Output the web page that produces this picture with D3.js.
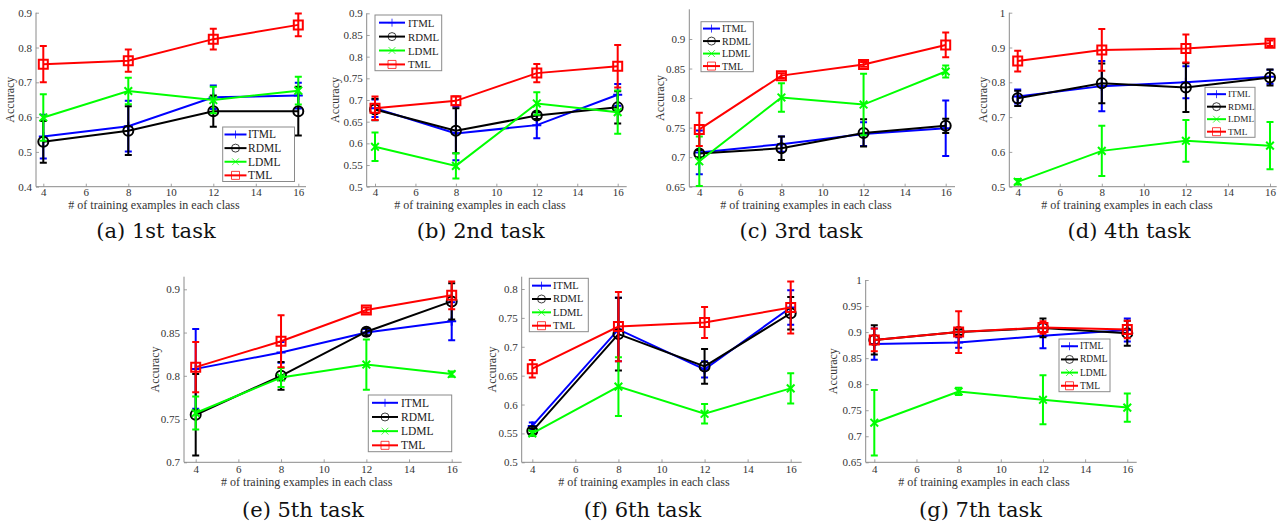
<!DOCTYPE html>
<html>
<head>
<meta charset="utf-8">
<script src="https://cdn.jsdelivr.net/npm/d3@7"></script>
<style>
  html, body { margin: 0; padding: 0; background: #fff; }
  svg { display: block; }
  text { font-family: "Liberation Serif", "Times New Roman", serif; }
</style>
</head>
<body>
<svg id="chart" width="1283" height="525"></svg>
<script>
// ---------------- data ----------------
const xValues = [4, 8, 12, 16];
const xTickValues = [4, 6, 8, 10, 12, 14, 16];
const methods = ["ITML", "RDML", "LDML", "TML"];
const taskTitles = ["(a) 1st task", "(b) 2nd task", "(c) 3rd task", "(d) 4th task",
                    "(e) 5th task", "(f) 6th task", "(g) 7th task"];
const xLabelText = "# of training examples in each class";
const yLabelText = "Accuracy";

const yTicksA = [0.4, 0.5, 0.6, 0.7, 0.8, 0.9];
const yTicksB = [0.5, 0.55, 0.6, 0.65, 0.7, 0.75, 0.8, 0.85, 0.9];
const yTicksC = [0.65, 0.7, 0.75, 0.8, 0.85, 0.9];
const yTicksD = [0.5, 0.6, 0.7, 0.8, 0.9, 1];
const yTicksE = [0.7, 0.75, 0.8, 0.85, 0.9];
const yTicksF = [0.5, 0.55, 0.6, 0.65, 0.7, 0.75, 0.8];
const yTicksG = [0.65, 0.7, 0.75, 0.8, 0.85, 0.9, 0.95, 1];

// one row per task (a..g), one column per x value
const itmlMean = [
  [0.544, 0.574, 0.657, 0.662],
  [0.681, 0.623, 0.642, 0.712],
  [0.708, 0.722, 0.739, 0.749],
  [0.759, 0.789, 0.800, 0.816],
  [0.808, 0.827, 0.850, 0.863],
  [0.563, 0.730, 0.661, 0.768],
  [0.877, 0.880, 0.893, 0.904]];
const itmlErr = [
  [0.063, 0.073, 0.034, 0.037],
  [0.020, 0.062, 0.030, 0.025],
  [0.037, 0.013, 0.020, 0.047],
  [0.020, 0.072, 0.046, 0.020],
  [0.046, 0.012, 0.004, 0.022],
  [0.006, 0.055, 0.014, 0.030],
  [0.030, 0.010, 0.024, 0.022]];
const rdmlMean = [
  [0.529, 0.561, 0.617, 0.617],
  [0.678, 0.629, 0.664, 0.683],
  [0.706, 0.715, 0.741, 0.753],
  [0.754, 0.797, 0.785, 0.814],
  [0.755, 0.800, 0.851, 0.886],
  [0.554, 0.722, 0.666, 0.758],
  [0.885, 0.900, 0.908, 0.898]];
const rdmlErr = [
  [0.060, 0.070, 0.045, 0.070],
  [0.025, 0.052, 0.008, 0.037],
  [0.006, 0.020, 0.023, 0.012],
  [0.022, 0.057, 0.070, 0.023],
  [0.047, 0.016, 0.004, 0.021],
  [0.005, 0.063, 0.030, 0.028],
  [0.028, 0.005, 0.018, 0.024]];
const ldmlMean = [
  [0.599, 0.675, 0.649, 0.676],
  [0.592, 0.548, 0.692, 0.672],
  [0.693, 0.801, 0.789, 0.845],
  [0.514, 0.603, 0.632, 0.618],
  [0.757, 0.798, 0.813, 0.802],
  [0.550, 0.631, 0.584, 0.628],
  [0.726, 0.786, 0.770, 0.755]];
const ldmlErr = [
  [0.067, 0.038, 0.038, 0.040],
  [0.033, 0.029, 0.026, 0.050],
  [0.042, 0.024, 0.052, 0.010],
  [0.008, 0.072, 0.060, 0.068],
  [0.019, 0.011, 0.029, 0.003],
  [0.004, 0.051, 0.017, 0.026],
  [0.063, 0.007, 0.047, 0.027]];
const tmlMean = [
  [0.752, 0.762, 0.824, 0.865],
  [0.681, 0.698, 0.762, 0.778],
  [0.747, 0.838, 0.857, 0.890],
  [0.861, 0.893, 0.897, 0.912],
  [0.810, 0.840, 0.876, 0.893],
  [0.662, 0.735, 0.742, 0.768],
  [0.885, 0.900, 0.909, 0.905]];
const tmlErr = [
  [0.052, 0.032, 0.030, 0.033],
  [0.027, 0.010, 0.021, 0.049],
  [0.028, 0.004, 0.004, 0.021],
  [0.030, 0.060, 0.040, 0.008],
  [0.029, 0.030, 0.003, 0.016],
  [0.015, 0.060, 0.027, 0.045],
  [0.022, 0.040, 0.012, 0.017]];

// ---------------- styling / layout ----------------
const methodColors = ["#0000ff", "#000000", "#00ff00", "#ff0000"];
const methodMarkers = ["plus", "circle", "cross", "square"];
const meansByMethod = [itmlMean, rdmlMean, ldmlMean, tmlMean];
const errsByMethod = [itmlErr, rdmlErr, ldmlErr, tmlErr];
const yTicksByTask = [yTicksA, yTicksB, yTicksC, yTicksD, yTicksE, yTicksF, yTicksG];

const panels = [
  {axL: 36, axR: 306, x4: 43.3, x16: 298.3, yLo: 0.4, yLoPx: 186.7, yHi: 0.9, yHiPx: 12.7, top: 12.7, ylabDx: -26,
   titleX: 156, xlabX: 154, row: 0,
   leg: {x0: 222.7, y0: 127, x1: 294.5, y1: 181.5, l0: 224.5, l1: 246.5, tx: 248, fs: 11.5}},
  {axL: 366.7, axR: 626.7, x4: 375, x16: 617.7, yLo: 0.5, yLoPx: 186.7, yHi: 0.9, yHiPx: 13.3, top: 13.3, ylabDx: -32,
   titleX: 480.7, xlabX: 480, row: 0,
   leg: {x0: 375, y0: 15, x1: 441.7, y1: 70.7, l0: 379, l1: 405, tx: 408, fs: 10.8}},
  {axL: 689.3, axR: 955, x4: 699.3, x16: 945.7, yLo: 0.65, yLoPx: 186.7, yHi: 0.9, yHiPx: 39, top: 9.3, ylabDx: -29,
   titleX: 801, xlabX: 806, row: 0,
   leg: {x0: 701, y0: 21.7, x1: 753.3, y1: 71.7, l0: 703, l1: 720, tx: 722, fs: 10}},
  {axL: 1009.3, axR: 1276.7, x4: 1017.7, x16: 1270, yLo: 0.5, yLoPx: 186.7, yHi: 1, yHiPx: 12.7, top: 12.7, ylabDx: -26,
   titleX: 1129, xlabX: 1127, row: 0,
   leg: {x0: 1205, y0: 87.3, x1: 1255, y1: 137.3, l0: 1207, l1: 1226, tx: 1228, fs: 9.2}},
  {axL: 184, axR: 461.7, x4: 195.7, x16: 451.7, yLo: 0.7, yLoPx: 462.3, yHi: 0.9, yHiPx: 289.3, top: 276.7, ylabDx: -29,
   titleX: 303, xlabX: 306.7, row: 1,
   leg: {x0: 368.3, y0: 395, x1: 451.7, y1: 451.7, l0: 372, l1: 398, tx: 401, fs: 11.5}},
  {axL: 521.7, axR: 801.7, x4: 532.3, x16: 790.7, yLo: 0.5, yLoPx: 462.3, yHi: 0.8, yHiPx: 289, top: 276.7, ylabDx: -30,
   titleX: 642.5, xlabX: 644, row: 1,
   leg: {x0: 529.3, y0: 278.3, x1: 588.3, y1: 331.7, l0: 532, l1: 551, tx: 553, fs: 10.5}},
  {axL: 865.7, axR: 1136.7, x4: 874.3, x16: 1127.3, yLo: 0.65, yLoPx: 462.3, yHi: 1, yHiPx: 280, top: 280, ylabDx: -33,
   titleX: 980.5, xlabX: 984, row: 1,
   leg: {x0: 1059, y0: 339, x1: 1110, y1: 391.7, l0: 1061, l1: 1078, tx: 1080, fs: 9.5}}
];
const rowStyle = [
  {xTickPad: 1.4, xlabBase: 208.9, titleBase: 238.4},
  {xTickPad: 2.9, xlabBase: 486.2, titleBase: 517.4}
];

const svg = d3.select("#chart");
const axisColor = "#8a8a8a";
const labelColor = "#333";
const fmt = v => String(+v.toFixed(2));

function markerPath(type, s) {
  const h = s / 2;
  if (type === "plus") return `M${-h},0H${h}M0,${-h}V${h}`;
  if (type === "cross") { const c = h * 0.85; return `M${-c},${-c}L${c},${c}M${-c},${c}L${c},${-c}`; }
  if (type === "square") return `M${-h},${-h}H${h}V${h}H${-h}Z`;
  if (type === "circle") return d3.arc()({innerRadius: 0, outerRadius: h, startAngle: 0, endAngle: 2 * Math.PI});
  return "";
}

panels.forEach((p, t) => {
  const g = svg.append("g");
  const x = d3.scaleLinear().domain([xValues[0], xValues[xValues.length - 1]]).range([p.x4, p.x16]);
  const y = d3.scaleLinear().domain([p.yLo, p.yHi]).range([p.yLoPx, p.yHiPx]);
  const rs = rowStyle[p.row];

  // axes
  const yAxis = g.append("g").attr("transform", `translate(${p.axL},0)`)
    .call(d3.axisLeft(y).tickValues(yTicksByTask[t]).tickFormat(fmt).tickSizeInner(-3).tickSizeOuter(0).tickPadding(4));
  const xAxis = g.append("g").attr("transform", `translate(0,${p.yLoPx})`)
    .call(d3.axisBottom(x).tickValues(xTickValues).tickFormat(d3.format("d")).tickSizeInner(-3).tickSizeOuter(0).tickPadding(rs.xTickPad));
  [yAxis, xAxis].forEach(a => {
    a.select(".domain").remove();
    a.selectAll(".tick line").attr("stroke", axisColor).attr("stroke-width", 0.8);
    a.selectAll(".tick text").attr("fill", labelColor).style("font-size", "11px")
      .style("font-family", "'Liberation Serif', serif");
  });
  g.append("line").attr("x1", p.axL).attr("x2", p.axL).attr("y1", p.top).attr("y2", p.yLoPx)
    .attr("stroke", axisColor).attr("stroke-width", 1);
  g.append("line").attr("x1", p.axL).attr("x2", p.axR).attr("y1", p.yLoPx).attr("y2", p.yLoPx)
    .attr("stroke", axisColor).attr("stroke-width", 1);

  // labels
  g.append("text").attr("x", p.xlabX).attr("y", rs.xlabBase).attr("text-anchor", "middle")
    .attr("fill", labelColor).style("font-size", "12px").text(xLabelText);
  const ylx = p.axL + p.ylabDx, yly = (p.top + p.yLoPx) / 2;
  g.append("text").attr("transform", `translate(${ylx},${yly}) rotate(-90)`)
    .attr("text-anchor", "middle").attr("dominant-baseline", "central")
    .attr("fill", labelColor).style("font-size", "12px").text(yLabelText);
  g.append("text").attr("x", p.titleX).attr("y", rs.titleBase).attr("text-anchor", "middle")
    .attr("fill", "#111").style("font-family", "'DejaVu Serif', serif")
    .style("font-size", "21px").text(taskTitles[t]);

  // series
  methods.forEach((m, k) => {
    const col = methodColors[k];
    const pts = xValues.map((xv, i) => ({x: xv, m: meansByMethod[k][t][i], e: errsByMethod[k][t][i]}));
    const sg = g.append("g");
    const cap = 3.5;
    pts.forEach(d => {
      const yt = y(d.m + d.e), yb = y(d.m - d.e), cx = x(d.x);
      sg.append("path")
        .attr("d", `M${cx},${yt}V${yb}M${cx - cap},${yt}H${cx + cap}M${cx - cap},${yb}H${cx + cap}`)
        .attr("stroke", col).attr("stroke-width", 2).attr("fill", "none");
    });
    sg.append("path").datum(pts)
      .attr("d", d3.line().x(d => x(d.x)).y(d => y(d.m)))
      .attr("stroke", col).attr("stroke-width", 2).attr("fill", "none");
    sg.selectAll(".mk").data(pts).enter().append("path")
      .attr("transform", d => `translate(${x(d.x)},${y(d.m)})`)
      .attr("d", markerPath(methodMarkers[k], methodMarkers[k] === "circle" ? 10 : 9))
      .attr("stroke", col).attr("stroke-width", 2).attr("fill", "none");
  });

  // legend
  const L = p.leg;
  const lg = g.append("g");
  lg.append("rect").attr("x", L.x0).attr("y", L.y0).attr("width", L.x1 - L.x0).attr("height", L.y1 - L.y0)
    .attr("fill", "#fff").attr("stroke", "#8a8a8a").attr("stroke-width", 1);
  const step = (L.y1 - L.y0) / methods.length;
  methods.forEach((m, k) => {
    const cy = L.y0 + step * (k + 0.55);
    const col = methodColors[k];
    lg.append("line").attr("x1", L.l0).attr("x2", L.l1).attr("y1", cy).attr("y2", cy)
      .attr("stroke", col).attr("stroke-width", 2);
    lg.append("path").attr("transform", `translate(${(L.l0 + L.l1) / 2},${cy})`)
      .attr("d", markerPath(methodMarkers[k], 8))
      .attr("stroke", col).attr("stroke-width", 1).attr("fill", "none").attr("opacity", 0.75);
    lg.append("text").attr("x", L.tx).attr("y", cy).attr("dominant-baseline", "central")
      .attr("fill", "#222").style("font-size", L.fs + "px").text(m);
  });
});
</script>
</body>
</html>
